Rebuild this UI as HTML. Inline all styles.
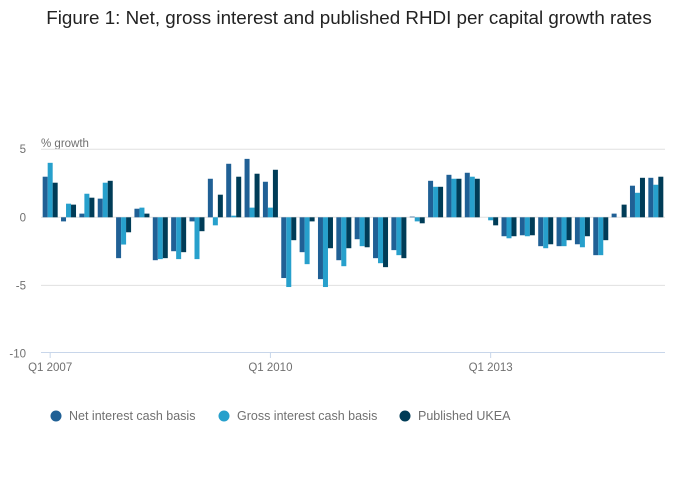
<!DOCTYPE html>
<html><head><meta charset="utf-8"><style>
body{margin:0;background:#fff;font-family:"Liberation Sans",sans-serif;}
svg{display:block}
text{font-family:"Liberation Sans",sans-serif;}
</style></head><body>
<svg id="chart" width="700" height="502" viewBox="0 0 700 502">
<text x="349" y="24" text-anchor="middle" font-size="18.8" fill="#222">Figure 1: Net, gross interest and published RHDI per capital growth rates</text>
<text x="41" y="147" font-size="11.5" fill="#707070">% growth</text>
<g id="grid"></g><g id="bars"></g><g id="axis"></g>
<g>
<g><circle cx="56" cy="416" r="5.5" fill="#206095"/><text x="69" y="420" font-size="12.5" fill="#707070">Net interest cash basis</text></g>
<g><circle cx="224" cy="416" r="5.5" fill="#27a0cc"/><text x="237" y="420" font-size="12.5" fill="#707070">Gross interest cash basis</text></g>
<g><circle cx="405" cy="416" r="5.5" fill="#003c57"/><text x="418" y="420" font-size="12.5" fill="#707070">Published UKEA</text></g>
</g>
</svg>
<script>
const categories=[];const years=[2007,2008,2009,2010,2011,2012,2013,2014,2015];
years.forEach(y=>{for(let q=1;q<=4;q++)categories.push('Q'+q+' '+y);});
categories.length=34;
const netValues=[2.98,-0.3,0.27,1.37,-3.0,0.63,-3.15,-2.49,-0.3,2.83,3.93,4.29,2.61,-4.46,-2.56,-4.54,-3.15,-1.61,-3.0,-2.41,0.05,2.68,3.12,3.27,0,-1.39,-1.32,-2.12,-2.12,-1.98,-2.78,0.27,2.32,2.9];
const grossValues=[4.0,1.0,1.73,2.54,-2.0,0.71,-3.07,-3.07,-3.07,-0.59,0.12,0.71,0.71,-5.12,-3.44,-5.12,-3.59,-2.12,-3.37,-2.78,-0.3,2.24,2.83,2.98,-0.22,-1.54,-1.39,-2.27,-2.12,-2.2,-2.78,0,1.8,2.39];
const publishedValues=[2.54,0.93,1.44,2.68,-1.1,0.27,-3.0,-2.56,-1.02,1.66,2.98,3.2,3.49,-1.68,-0.3,-2.27,-2.27,-2.2,-3.66,-3.0,-0.44,2.24,2.83,2.83,-0.59,-1.39,-1.32,-1.98,-1.68,-1.39,-1.68,0.93,2.9,2.98];
const yTicks=[5,0,-5,-10];
const xTickLabels=['Q1 2007','Q1 2010','Q1 2013'];
const xTickIndex=[0,12,24];
const L=41,R=665,step=(R-L)/categories.length;
const y=v=>217.3-v*13.62;
const x=i=>L+(i+0.5)*step;
const NS='http://www.w3.org/2000/svg';
function mk(tag,at,parent){const e=document.createElementNS(NS,tag);for(const k in at)e.setAttribute(k,at[k]);parent.appendChild(e);return e;}
const grid=document.getElementById('grid'),bars=document.getElementById('bars'),axis=document.getElementById('axis');
yTicks.forEach(t=>{
 if(t!==-10){const l=mk('line',{x1:L,x2:R,y1:y(t),y2:y(t),stroke:'#e0e0e0','stroke-width':1},grid);
 
 }
 const tx=mk('text',{x:26,y:y(t)+4,'text-anchor':'end','font-size':11.5,fill:'#707070'},grid);tx.textContent=t;
 
 
});
const series=[[netValues,'#206095','net'],[grossValues,'#27a0cc','gross'],[publishedValues,'#003c57','published']];
series.forEach((s,si)=>{s[0].forEach((v,i)=>{
 const bx=x(i)-7.5+si*5;const y0=y(0),y1=y(v);
 const r=mk('rect',{x:bx,y:Math.min(y0,y1),width:5,height:Math.abs(y1-y0),fill:s[1]},bars);
 
 
});});
const ax=mk('line',{x1:L,x2:R,y1:352.5,y2:352.5,stroke:'#c8d6ea','stroke-width':1},axis);


xTickIndex.forEach((ti,k)=>{
 const tk=mk('line',{x1:x(ti),x2:x(ti),y1:352.5,y2:358,stroke:'#c8d6ea'},axis);
 
 
 const t=mk('text',{x:x(ti),y:371,'text-anchor':'middle','font-size':11.5,fill:'#707070'},axis);t.textContent=xTickLabels[k];
 
 
});
</script>
</body></html>
